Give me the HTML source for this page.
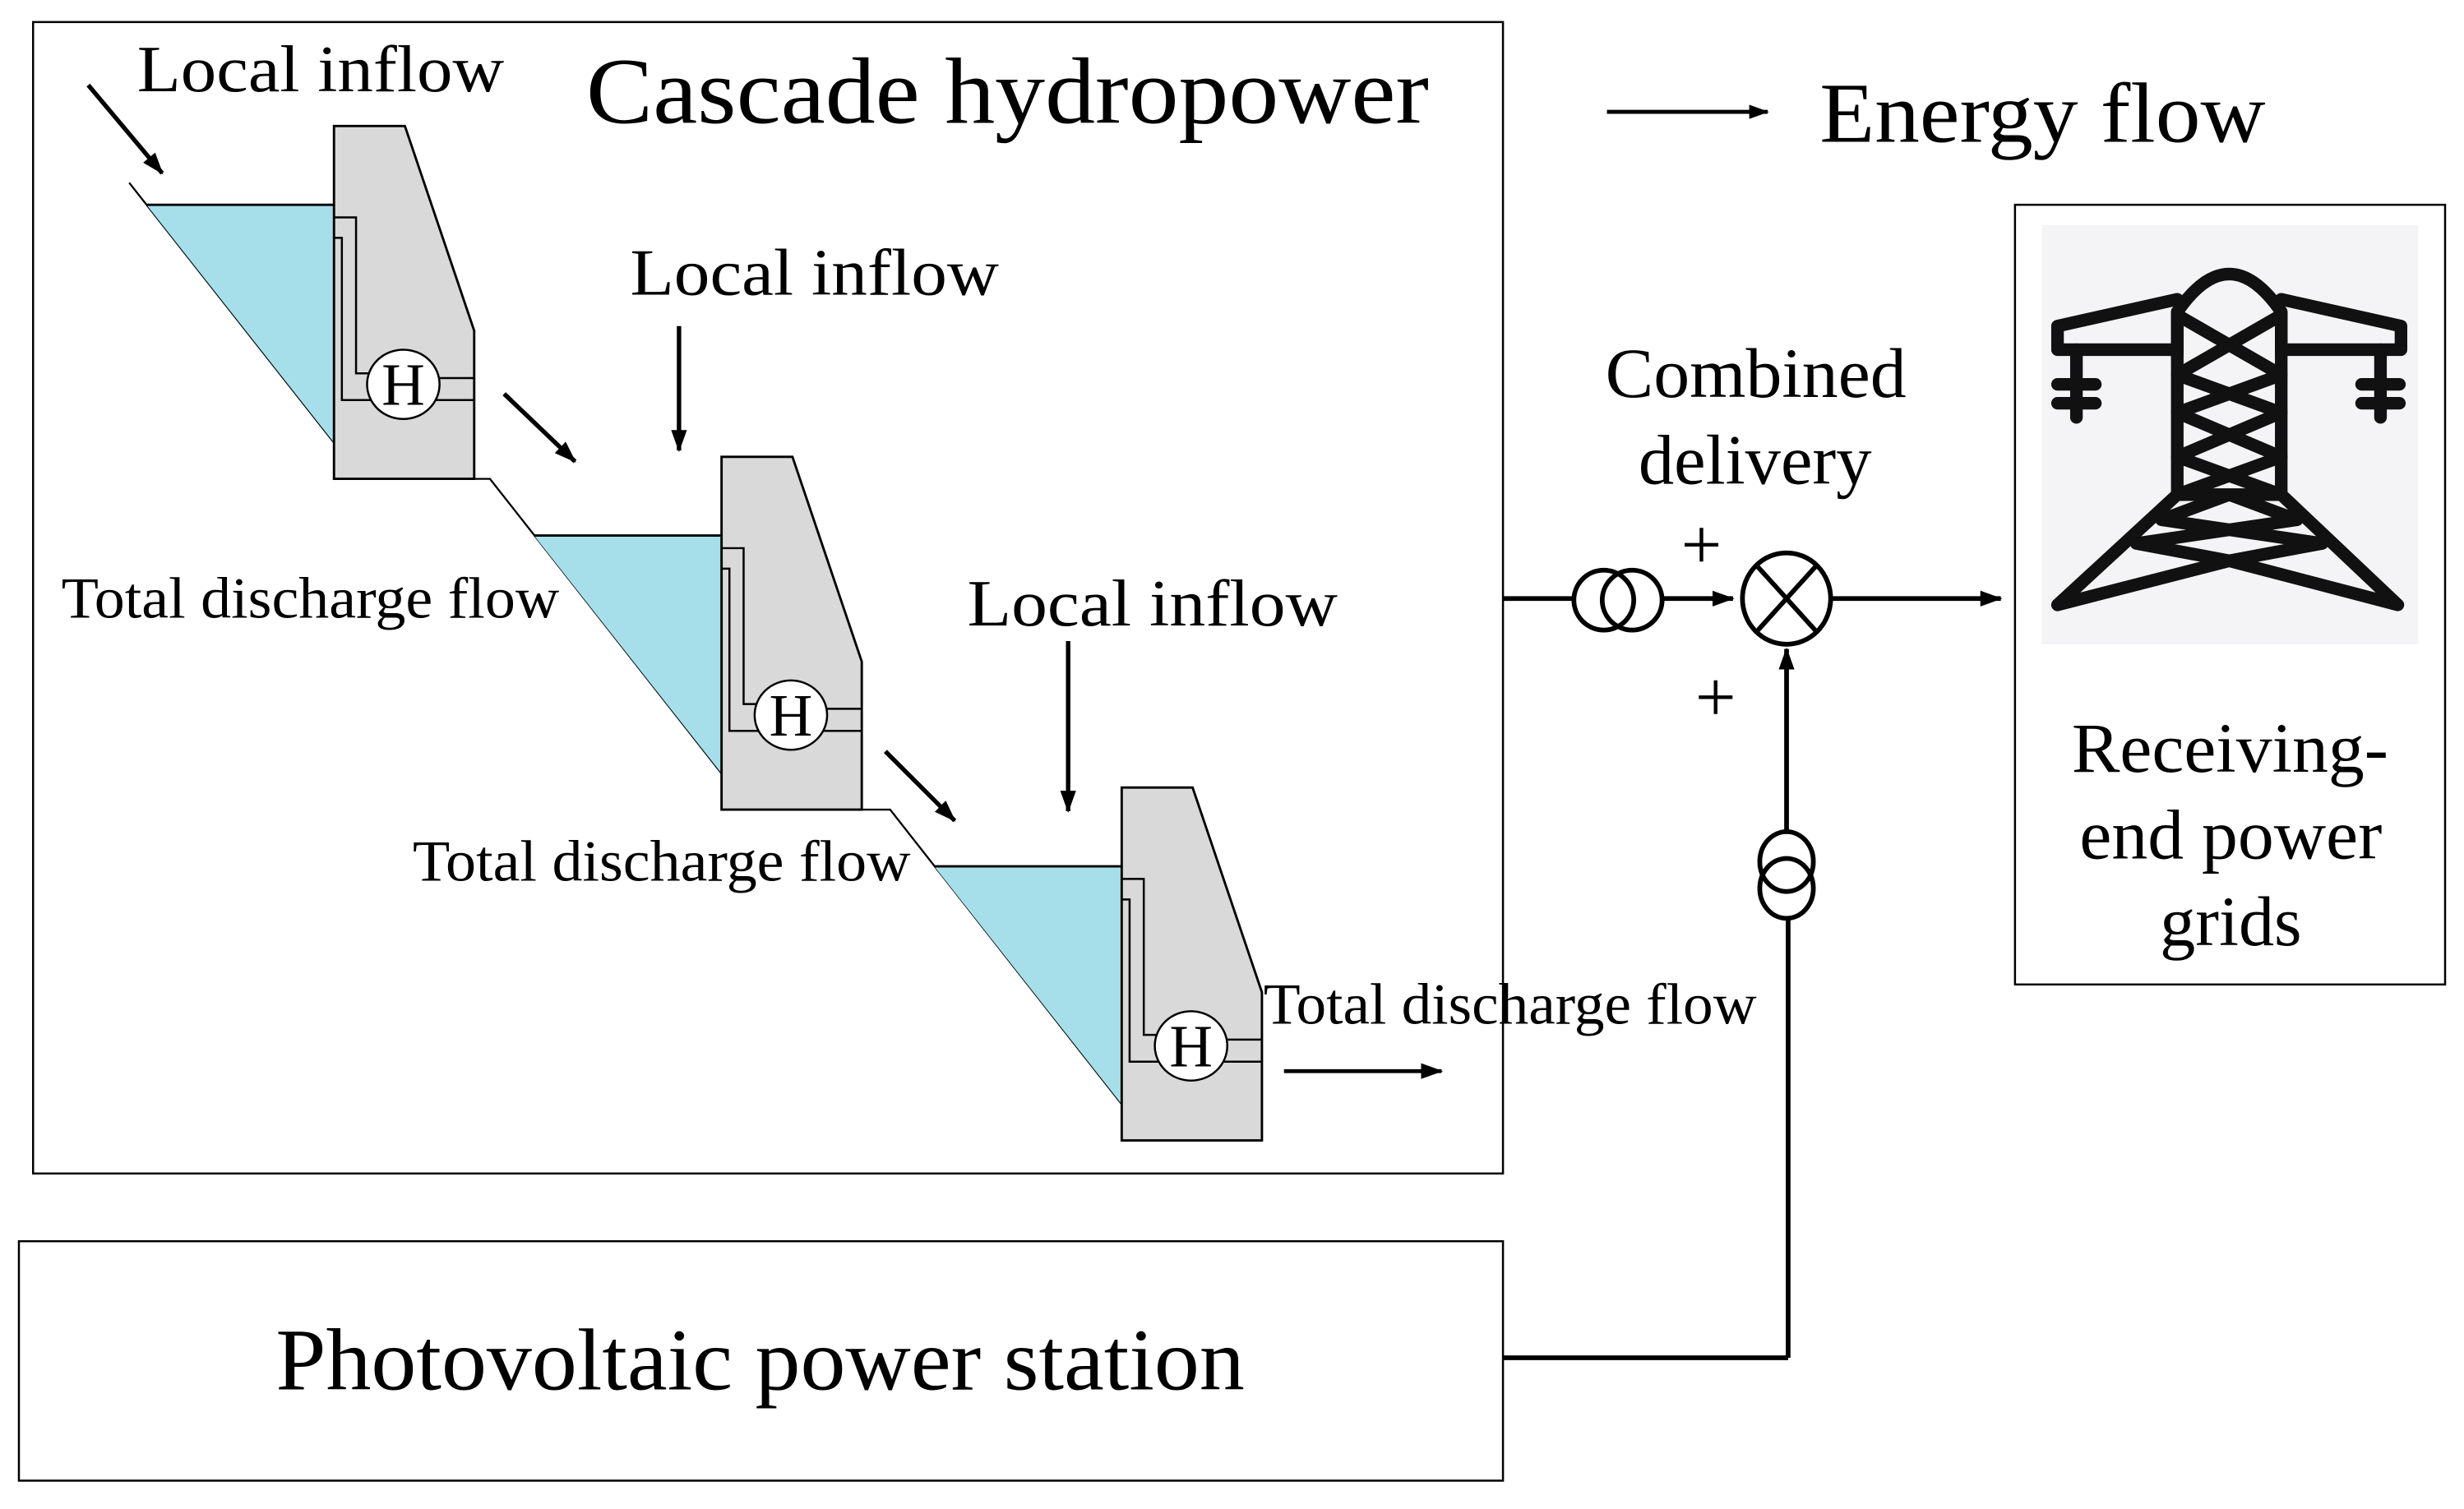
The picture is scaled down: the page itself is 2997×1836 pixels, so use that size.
<!DOCTYPE html>
<html><head><meta charset="utf-8"><style>
html,body{margin:0;padding:0;background:#fff}
svg{display:block}
text{font-family:"Liberation Serif",serif;fill:#000}
</style></head><body>
<svg width="2997" height="1836" viewBox="0 0 1564 958" preserveAspectRatio="none" xmlns="http://www.w3.org/2000/svg">
<defs>
<marker id="ah" viewBox="0 0 14 10" refX="13" refY="5" markerWidth="14" markerHeight="10" markerUnits="userSpaceOnUse" orient="auto">
<path d="M0,0 L14,5 L0,10 z" fill="#000"/></marker>
<marker id="ah2" viewBox="0 0 14 10" refX="13" refY="5" markerWidth="13" markerHeight="9" markerUnits="userSpaceOnUse" orient="auto">
<path d="M0,0 L14,5 L0,10 z" fill="#000"/></marker>
<g id="dam">
<polygon points="93,130 212,130 212,281" fill="#a6dfea"/>
<line x1="93" y1="130" x2="212" y2="130" stroke="#000" stroke-width="1.5"/>
<polygon points="212,80 257,80 301,210 301,304 212,304" fill="#d9d9d9" stroke="#000" stroke-width="1.5"/>
<polyline points="212,138 226,138 226,237 237,237" fill="none" stroke="#000" stroke-width="1.3"/>
<polyline points="212,151 217,151 217,254 301,254" fill="none" stroke="#000" stroke-width="1.3"/>
<line x1="278" y1="240" x2="301" y2="240" stroke="#000" stroke-width="1.3"/>
<ellipse cx="256" cy="244" rx="23" ry="22" fill="#fff" stroke="#000" stroke-width="1.3"/>
<text x="256" y="257" font-size="38" text-anchor="middle">H</text>
</g>
</defs>
<rect x="21" y="14" width="933" height="731" fill="none" stroke="#000" stroke-width="1.3"/>
<rect x="12" y="788" width="942" height="152" fill="none" stroke="#000" stroke-width="1.3"/>
<rect x="1279" y="130" width="273" height="495" fill="none" stroke="#000" stroke-width="1.3"/>
<rect x="1296" y="143" width="239" height="266" fill="#f4f4f6"/>

<text x="372" y="78" font-size="60" textLength="535" lengthAdjust="spacingAndGlyphs">Cascade hydropower</text>
<text x="1155" y="90" font-size="54" textLength="283" lengthAdjust="spacingAndGlyphs">Energy flow</text>
<line x1="1020" y1="71" x2="1122" y2="71" stroke="#000" stroke-width="2.5" marker-end="url(#ah2)"/>

<!-- slopes -->
<line x1="82" y1="116" x2="212" y2="281" stroke="#000" stroke-width="1.2"/>
<polyline points="301,304 311,304 458,491" fill="none" stroke="#000" stroke-width="1.2"/>
<polyline points="547,514 565,514 712,701" fill="none" stroke="#000" stroke-width="1.2"/>
<use href="#dam"/>
<g transform="translate(246,210)"><use href="#dam"/></g>
<g transform="translate(500,420)"><use href="#dam"/></g>

<text x="87" y="58" font-size="42" textLength="233" lengthAdjust="spacingAndGlyphs">Local inflow</text>
<line x1="56" y1="54" x2="103" y2="110" stroke="#000" stroke-width="2.8" marker-end="url(#ah)"/>
<text x="400" y="187" font-size="42" textLength="234" lengthAdjust="spacingAndGlyphs">Local inflow</text>
<line x1="431" y1="207" x2="431" y2="286" stroke="#000" stroke-width="2.8" marker-end="url(#ah)"/>
<text x="614" y="397" font-size="42" textLength="235" lengthAdjust="spacingAndGlyphs">Local inflow</text>
<line x1="678" y1="407" x2="678" y2="515" stroke="#000" stroke-width="2.8" marker-end="url(#ah)"/>
<line x1="320" y1="250" x2="365" y2="293" stroke="#000" stroke-width="2.8" marker-end="url(#ah)"/>
<line x1="562" y1="477" x2="606" y2="521" stroke="#000" stroke-width="2.8" marker-end="url(#ah)"/>
<line x1="815" y1="680" x2="915" y2="680" stroke="#000" stroke-width="2.5" marker-end="url(#ah)"/>

<text x="39" y="392" font-size="37" textLength="316" lengthAdjust="spacingAndGlyphs">Total discharge flow</text>
<text x="262" y="559" font-size="37" textLength="316" lengthAdjust="spacingAndGlyphs">Total discharge flow</text>
<text x="802" y="650" font-size="37" textLength="313" lengthAdjust="spacingAndGlyphs">Total discharge flow</text>

<text x="175" y="882" font-size="56" textLength="615" lengthAdjust="spacingAndGlyphs">Photovoltaic power station</text>

<!-- right side -->
<line x1="954" y1="380" x2="999" y2="380" stroke="#000" stroke-width="3"/>
<ellipse cx="1018" cy="381" rx="19" ry="19" fill="none" stroke="#000" stroke-width="3"/>
<ellipse cx="1036" cy="381" rx="19" ry="19" fill="none" stroke="#000" stroke-width="3"/>
<line x1="1055" y1="380" x2="1100" y2="380" stroke="#000" stroke-width="3" marker-end="url(#ah)"/>
<ellipse cx="1134" cy="380" rx="28" ry="29" fill="#fff" stroke="#000" stroke-width="3"/>
<line x1="1115" y1="359" x2="1153" y2="401" stroke="#000" stroke-width="3"/>
<line x1="1153" y1="359" x2="1115" y2="401" stroke="#000" stroke-width="3"/>
<line x1="1162" y1="380" x2="1270" y2="380" stroke="#000" stroke-width="3" marker-end="url(#ah)"/>
<text x="1080" y="361" font-size="46" text-anchor="middle">+</text>
<text x="1089" y="458" font-size="46" text-anchor="middle">+</text>
<line x1="954" y1="862" x2="1135" y2="862" stroke="#000" stroke-width="3"/>
<line x1="1135" y1="862" x2="1135" y2="583" stroke="#000" stroke-width="3"/>
<ellipse cx="1134" cy="547" rx="17" ry="19" fill="none" stroke="#000" stroke-width="3"/>
<ellipse cx="1134" cy="564" rx="17" ry="19" fill="none" stroke="#000" stroke-width="3"/>
<line x1="1134" y1="528" x2="1134" y2="412" stroke="#000" stroke-width="3" marker-end="url(#ah)"/>
<text x="1019" y="252" font-size="45" textLength="191" lengthAdjust="spacingAndGlyphs">Combined</text>
<text x="1040" y="307" font-size="45" textLength="148" lengthAdjust="spacingAndGlyphs">delivery</text>
<text x="1315" y="490" font-size="45" textLength="201" lengthAdjust="spacingAndGlyphs">Receiving-</text>
<text x="1320" y="545" font-size="45" textLength="192" lengthAdjust="spacingAndGlyphs">end power</text>
<text x="1371" y="600" font-size="45" textLength="90" lengthAdjust="spacingAndGlyphs">grids</text>

<!-- tower -->
<g fill="none" stroke="#111" stroke-width="8" stroke-linejoin="round" stroke-linecap="round">
<path d="M1382,225 L1382,198 Q1415,150 1448,198 L1448,225"/>
<path d="M1382,190 L1306,207 L1306,222 L1382,222 M1448,190 L1524,207 L1524,222 L1448,222"/>
<path d="M1382,198 L1382,314 L1306,384 L1415,356 L1522,384 L1448,314 L1448,198"/>
<path d="M1382,200 L1448,238 L1382,262 L1448,290 L1382,314 M1448,200 L1382,238 L1448,262 L1382,290 L1448,314"/>
<path d="M1382,314 L1448,314 M1372,330 L1415,314 L1458,330 M1356,345 L1458,330 M1474,345 L1372,330 M1356,345 L1415,356 L1474,345"/>
<path d="M1318,222 L1318,265 M1306,244 L1330,244 M1306,256 L1330,256 M1511,222 L1511,265 M1499,244 L1523,244 M1499,256 L1523,256"/>
</g>
</svg>
</body></html>
